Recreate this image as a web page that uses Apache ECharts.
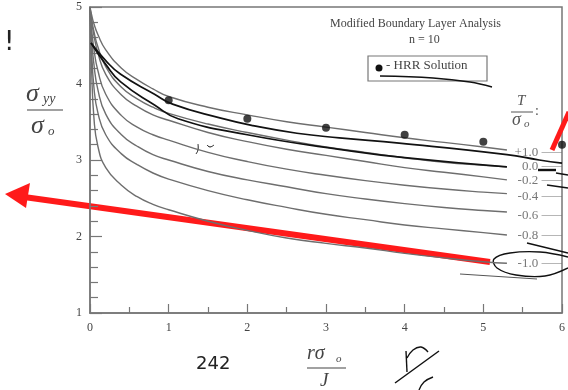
<!DOCTYPE html>
<html>
<head>
<meta charset="utf-8">
<script src="https://cdn.jsdelivr.net/npm/echarts@6/dist/echarts.min.js"></script>
<style>
  html, body { margin: 0; padding: 0; background: #fff; }
  #chart { width: 568px; height: 390px; }
</style>
</head>
<body>
<div id="chart"></div>
<script>
// distance from crack tip, r*sigma_o/J
const xs = [0, 0.02, 0.05, 0.1, 0.2, 0.4, 0.6, 0.8, 1.0, 1.5, 2, 2.5, 3, 3.5, 4, 4.5, 5, 5.3];

// sigma_yy/sigma_o for each T/sigma_o
const stressP10 = [5.0, 4.9, 4.78, 4.64, 4.44, 4.2, 4.05, 3.93, 3.83, 3.69, 3.59, 3.5, 3.43, 3.36, 3.29, 3.23, 3.17, 3.13];
const stress00  = [5.0, 4.85, 4.68, 4.48, 4.22, 3.95, 3.8, 3.69, 3.61, 3.47, 3.36, 3.26, 3.17, 3.1, 3.03, 2.97, 2.93, 2.91];
const stressM02 = [5.0, 4.82, 4.63, 4.4, 4.12, 3.85, 3.7, 3.59, 3.52, 3.36, 3.24, 3.14, 3.06, 2.98, 2.9, 2.84, 2.78, 2.74];
const stressM04 = [5.0, 4.72, 4.45, 4.17, 3.86, 3.58, 3.43, 3.33, 3.26, 3.1, 2.98, 2.88, 2.8, 2.73, 2.67, 2.62, 2.58, 2.56];
const stressM06 = [5.0, 4.6, 4.25, 3.92, 3.6, 3.33, 3.18, 3.07, 3.0, 2.85, 2.74, 2.65, 2.56, 2.49, 2.43, 2.38, 2.34, 2.32];
const stressM08 = [5.0, 4.45, 3.95, 3.62, 3.33, 3.08, 2.94, 2.83, 2.75, 2.6, 2.48, 2.38, 2.29, 2.22, 2.15, 2.1, 2.05, 2.02];
const stressM10 = [5.0, 4.2, 3.55, 3.18, 2.9, 2.67, 2.52, 2.42, 2.35, 2.2, 2.08, 1.98, 1.91, 1.85, 1.78, 1.72, 1.67, 1.65];

const ratioLabels = ['+1.0', '0.0', '-0.2', '-0.4', '-0.6', '-0.8', '-1.0'];
const labelY = [3.10, 2.92, 2.73, 2.52, 2.28, 2.01, 1.65];

// HRR solution points
const hrrX = [1, 2, 3, 4, 5, 6];
const hrrY = [3.78, 3.54, 3.42, 3.33, 3.24, 3.20];

// pen strokes drawn over the scan
const penUpper = [[0.013, 4.53], [0.2, 4.3], [0.39, 4.12], [0.82, 3.86], [1.05, 3.73], [1.65, 3.55], [2.07, 3.45], [2.63, 3.35], [3.17, 3.29], [3.93, 3.22], [5.3, 3.07], [5.71, 3.0], [6.0, 2.96]];
const penLower = [[0.013, 4.53], [0.2, 4.25], [0.39, 4.02], [0.82, 3.72], [1.12, 3.54], [2, 3.33], [3.17, 3.14], [4, 3.03], [5.3, 2.91]];

const xTicks = ['0', '1', '2', '3', '4', '5', '6'];
const yTicks = ['1', '2', '3', '4', '5'];

const curves = [stressP10, stress00, stressM02, stressM04, stressM06, stressM08, stressM10];
const serif = 'Liberation Serif';
const gray = '#6e6e6e';

const chart = echarts.init(document.getElementById('chart'));

const series = curves.map((ys, i) => ({
  name: ratioLabels[i],
  type: 'line',
  data: xs.map((x, j) => [x, ys[j]]),
  showSymbol: false,
  smooth: 0.5,
  lineStyle: { color: gray, width: 1.4 },
  silent: true,
  z: 2
}));

series.push({
  type: 'line', data: penUpper, showSymbol: false, smooth: 0.5,
  lineStyle: { color: '#111', width: 1.7 }, z: 3
});
series.push({
  type: 'line', data: penLower, showSymbol: false, smooth: 0.5,
  lineStyle: { color: '#111', width: 1.7 }, z: 3
});

series.push({
  type: 'lines',
  coordinateSystem: 'cartesian2d',
  data: labelY.map(y => ({ coords: [[5.74, y], [6, y]] })),
  lineStyle: { color: gray, width: 1.2 },
  z: 2
});

series.push({
  type: 'scatter',
  data: labelY.map((y, i) => [5.71, y, ratioLabels[i]]),
  symbolSize: 0,
  label: {
    show: true, position: 'left', distance: 1,
    formatter: p => p.data[2],
    fontFamily: serif, fontSize: 13, color: '#555'
  },
  z: 4
});

series.push({
  type: 'scatter',
  data: hrrX.map((x, i) => [x, hrrY[i]]),
  symbolSize: 8,
  itemStyle: { color: '#111' },
  z: 5
});

const redArrow = '#ff1a1a';
const pen = { stroke: '#111', lineWidth: 1.4, fill: null };

chart.setOption({
  animation: false,
  grid: { left: 90, right: 5, top: 7, bottom: 77, show: true, borderColor: '#777', borderWidth: 1.5 },
  xAxis: {
    type: 'value', min: 0, max: 6, interval: 1,
    axisLine: { lineStyle: { color: '#777', width: 1.5 } },
    axisTick: { inside: true, length: 9, lineStyle: { color: '#777', width: 1.2 } },
    minorTick: { show: true, splitNumber: 2, length: 6, lineStyle: { color: '#777', width: 1.2 } },
    splitLine: { show: false },
    axisLabel: { margin: 9, fontFamily: serif, fontSize: 12, color: '#444', formatter: v => xTicks[v] }
  },
  yAxis: {
    type: 'value', min: 1, max: 5, interval: 1,
    axisLine: { lineStyle: { color: '#777', width: 1.5 } },
    axisTick: { inside: true, length: 12, lineStyle: { color: '#777', width: 1.2 } },
    minorTick: { show: true, splitNumber: 5, length: 8, lineStyle: { color: '#777', width: 1.2 } },
    splitLine: { show: false },
    axisLabel: { margin: 8, fontFamily: serif, fontSize: 12, color: '#444', formatter: v => yTicks[v - 1] }
  },
  series: series,
  graphic: [
    // in-plot title
    { type: 'text', left: 330, top: 18, style: { text: 'Modified Boundary Layer Analysis', font: '12px "Liberation Serif"', fill: '#444' } },
    { type: 'text', left: 409, top: 34, style: { text: 'n = 10', font: '12px "Liberation Serif"', fill: '#444' } },
    // legend box
    { type: 'rect', shape: { x: 368, y: 56, width: 119, height: 25 }, style: { fill: '#fff', stroke: '#777', lineWidth: 1.2 } },
    { type: 'circle', shape: { cx: 379, cy: 68, r: 3.5 }, style: { fill: '#111' } },
    { type: 'text', left: 386, top: 59, style: { text: '- HRR Solution', font: '13px "Liberation Serif"', fill: '#444' } },
    // T / sigma_o label
    { type: 'text', left: 517, top: 94, style: { text: 'T', font: 'italic 15px "Liberation Serif"', fill: '#555' } },
    { type: 'line', shape: { x1: 511, y1: 112, x2: 533, y2: 112 }, style: { stroke: '#555', lineWidth: 1 } },
    { type: 'text', left: 512, top: 111, style: { text: 'σ', font: 'italic 18px "Liberation Serif"', fill: '#555' } },
    { type: 'text', left: 524, top: 119, style: { text: 'o', font: 'italic 11px "Liberation Serif"', fill: '#555' } },
    { type: 'text', left: 535, top: 104, style: { text: ':', font: '14px "Liberation Serif"', fill: '#555' } },
    // y axis title
    { type: 'text', left: 26, top: 81, style: { text: 'σ', font: 'italic 26px "Liberation Serif"', fill: '#444' } },
    { type: 'text', left: 43, top: 92, style: { text: 'yy', font: 'italic 14px "Liberation Serif"', fill: '#444' } },
    { type: 'line', shape: { x1: 27, y1: 110, x2: 63, y2: 110 }, style: { stroke: '#444', lineWidth: 1.2 } },
    { type: 'text', left: 31, top: 113, style: { text: 'σ', font: 'italic 26px "Liberation Serif"', fill: '#444' } },
    { type: 'text', left: 48, top: 125, style: { text: 'o', font: 'italic 13px "Liberation Serif"', fill: '#444' } },
    // x axis title
    { type: 'text', left: 307, top: 344, style: { text: 'rσ', font: 'italic 20px "Liberation Serif"', fill: '#444' } },
    { type: 'text', left: 336, top: 354, style: { text: 'o', font: 'italic 11px "Liberation Serif"', fill: '#444' } },
    { type: 'line', shape: { x1: 307, y1: 368, x2: 346, y2: 368 }, style: { stroke: '#444', lineWidth: 1.2 } },
    { type: 'text', left: 320, top: 371, style: { text: 'J', font: 'italic 19px "Liberation Serif"', fill: '#444' } },
    // page marks
    { type: 'text', left: 4, top: 30, style: { text: '!', font: '26px "DejaVu Sans"', fill: '#222' } },
    { type: 'text', left: 196, top: 355, style: { text: '242', font: '18px "DejaVu Sans"', fill: '#222' } },
    // red arrows
    { type: 'line', shape: { x1: 490, y1: 262, x2: 24, y2: 197 }, style: { stroke: redArrow, lineWidth: 6 } },
    { type: 'polygon', shape: { points: [[5, 194], [30, 183], [26, 208]] }, style: { fill: redArrow } },
    { type: 'line', shape: { x1: 552, y1: 150, x2: 569, y2: 112 }, style: { stroke: redArrow, lineWidth: 5 } },
    // pen annotations
    { type: 'polyline', shape: { points: [[380, 76], [433, 78], [470, 82], [492, 87]], smooth: 0.4 }, style: pen },
    { type: 'polyline', shape: { points: [[568, 257], [540, 252], [510, 253], [494, 259], [497, 268], [516, 275], [545, 276], [568, 268]], smooth: 0.4 }, style: pen },
    { type: 'line', shape: { x1: 527, y1: 243, x2: 568, y2: 253 }, style: pen },
    { type: 'line', shape: { x1: 538, y1: 170, x2: 556, y2: 170 }, style: { stroke: '#111', lineWidth: 2.4 } },
    { type: 'line', shape: { x1: 556, y1: 173, x2: 568, y2: 175 }, style: pen },
    { type: 'line', shape: { x1: 547, y1: 185, x2: 568, y2: 188 }, style: pen },
    { type: 'line', shape: { x1: 460, y1: 274, x2: 537, y2: 279 }, style: { stroke: '#555', lineWidth: 1 } },
    { type: 'polyline', shape: { points: [[406, 351], [407, 372]] }, style: pen },
    { type: 'polyline', shape: { points: [[407, 358], [413, 350], [421, 347], [428, 352]], smooth: 0.4 }, style: pen },
    { type: 'polyline', shape: { points: [[439, 351], [395, 383]] }, style: pen },
    { type: 'polyline', shape: { points: [[433, 377], [424, 382], [419, 390]], smooth: 0.4 }, style: pen },
    { type: 'polyline', shape: { points: [[198, 144], [198, 150], [196, 154]], smooth: 0.4 }, style: { stroke: '#111', lineWidth: 1, fill: null } },
    { type: 'polyline', shape: { points: [[207, 145], [210, 147], [214, 145]], smooth: 0.4 }, style: { stroke: '#111', lineWidth: 1, fill: null } }
  ]
});
</script>
</body>
</html>
